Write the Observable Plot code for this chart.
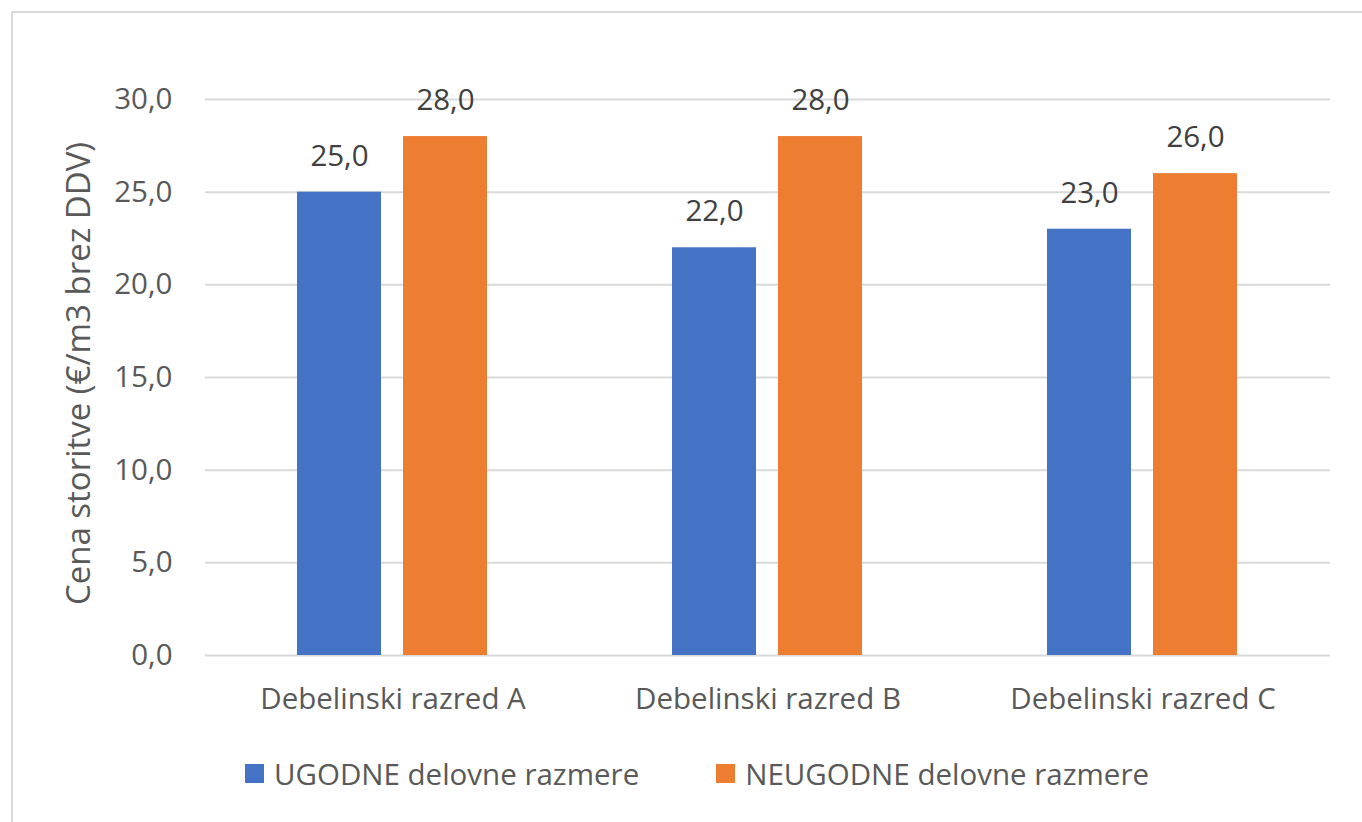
<!DOCTYPE html>
<html>
<head>
<meta charset="utf-8">
<script src="https://cdn.jsdelivr.net/npm/d3@7"></script>
<script src="https://cdn.jsdelivr.net/npm/@observablehq/plot@0.6"></script>
<style>
  html, body { margin: 0; padding: 0; background: #fff; overflow: hidden; }
  #wrap { position: relative; width: 1362px; height: 822px; }
  #frame { position: absolute; left: 11px; top: 11px; width: 1500px; height: 1000px;
           border-left: 2px solid #d9d9d9; border-top: 2px solid #d9d9d9; pointer-events: none; }
  #legend { box-sizing: border-box; width: 1362px; padding-left: 32px; padding-top: 28px;
            display: flex; justify-content: center; align-items: center;
            font-family: "Open Sans", sans-serif; font-size: 29.5px; color: #595959; }
  .item { display: flex; align-items: center; }
  .item + .item { margin-left: 77px; }
  .sw { width: 19px; height: 19px; margin-right: 10px; }
</style>
</head>
<body>
<div id="wrap">
  <div id="chart"></div>
  <div id="legend"></div>
  <div id="frame"></div>
</div>
<script>
const categories = ["Debelinski razred A", "Debelinski razred B", "Debelinski razred C"];
const seriesNames = ["UGODNE delovne razmere", "NEUGODNE delovne razmere"];
const ugodne = [25.0, 22.0, 23.0];
const neugodne = [28.0, 28.0, 26.0];
const seriesColors = ["#4472C4", "#ED7D31"];
const yTicks = [0, 5, 10, 15, 20, 25, 30];
const yTitle = "Cena storitve (€/m3 brez DDV)";

const fmt = v => d3.format(".1f")(v).replace(".", ",");

const rows = [];
categories.forEach((c, i) => {
  rows.push({cat: c, series: seriesNames[0], value: ugodne[i]});
  rows.push({cat: c, series: seriesNames[1], value: neugodne[i]});
});
const titleRows = [{cat: categories[0], t: yTitle}];

const chart = Plot.plot({
  width: 1362,
  height: 725,
  marginLeft: 205,
  marginRight: 32,
  marginTop: 99,
  marginBottom: 70,
  style: {fontFamily: "Open Sans", fontSize: "29.5px", color: "#595959", background: "transparent"},
  fx: {domain: categories, padding: 0, axis: "bottom", label: null, tickSize: 0, tickPadding: 33},
  x: {domain: seriesNames, axis: null, paddingInner: 0.2075, paddingOuter: 0.8726},
  y: {domain: [0, 30]},
  color: {domain: seriesNames, range: seriesColors},
  marks: [
    Plot.gridY(yTicks, {stroke: "#d9d9d9", strokeOpacity: 1, strokeWidth: 2}),
    Plot.barY(rows, {fx: "cat", x: "series", y: "value", fill: "series"}),
    Plot.text(rows, {fx: "cat", x: "series", y: "value", text: d => fmt(d.value), dy: -36, fill: "#404040"}),
    Plot.axisY({ticks: yTicks, tickFormat: fmt, tickSize: 0, tickPadding: 33, label: null}),
    Plot.text(titleRows, {fx: "cat", text: "t", frameAnchor: "left", textAnchor: "middle", dx: -126, dy: -4,
                          rotate: -90, fontSize: 33, fill: "#595959"})
  ]
});
document.getElementById("chart").appendChild(chart);

const legend = document.getElementById("legend");
seriesNames.forEach((s, i) => {
  const item = document.createElement("div");
  item.className = "item";
  const sw = document.createElement("div");
  sw.className = "sw";
  sw.style.background = seriesColors[i];
  const t = document.createElement("span");
  t.textContent = s;
  item.appendChild(sw);
  item.appendChild(t);
  legend.appendChild(item);
});
</script>
</body>
</html>
